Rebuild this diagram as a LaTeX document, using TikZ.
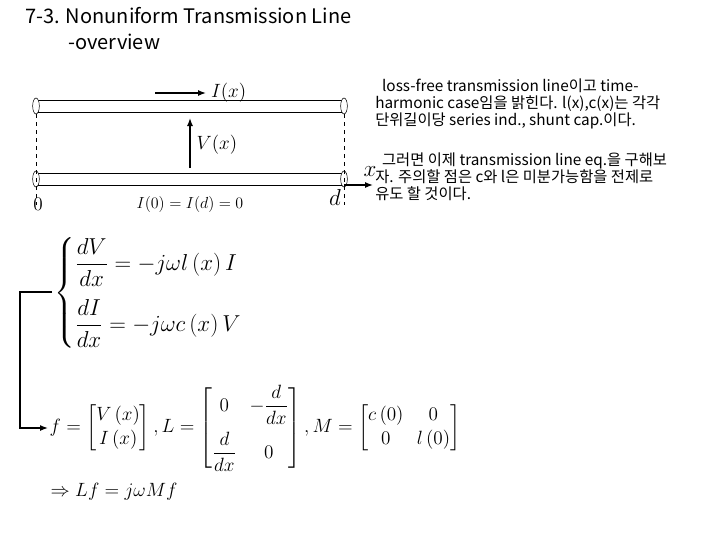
\documentclass[tikz,border=0pt]{standalone}
\usepackage{amsmath}
\usepackage{fontspec}
\setmainfont{Noto Sans CJK KR}
\usetikzlibrary{arrows.meta,positioning,shapes.geometric}
\tikzstyle{conductor} = [draw=black,line width=0.4pt]
\tikzstyle{endcap} = [draw=black,ellipse,minimum width=5pt,minimum height=12pt,inner sep=0pt,fill=white]
\tikzstyle{flow} = [-{Latex[length=6pt]},line width=1.2pt]
\tikzstyle{memo} = [anchor=north west,align=left,font=\fontsize{11.5}{12.6}\selectfont,inner sep=0pt]
\begin{document}
\begin{tikzpicture}[x=0.75pt,y=-0.75pt]
\useasboundingbox (0,0) rectangle (720,540);

%------------------------------------------------------- title
\node[anchor=north west,inner sep=0pt,font=\fontsize{15}{15}\selectfont] (t1) at (25,7) {7-3. Nonuniform Transmission Line};
\node[anchor=north west,inner sep=0pt,font=\fontsize{15}{15}\selectfont] (t2) at (68,34) {-overview};

%------------------------------------------------------- line
\draw[conductor] (36,100) rectangle (344,112);
\draw[conductor] (36,173) rectangle (344,185);
\node[endcap] (c1) at (36,106) {};
\node[endcap] (c2) at (344,106) {};
\node[endcap] (c3) at (36,179) {};
\node[endcap] (c4) at (344,179) {};
\draw[dashed] (c1.south) -- (36,205);
\draw[dashed] (c2.south) -- (344,205);
\coordinate (i0) at (155,93);
\coordinate (i1) at (206,93);
\draw[flow,line width=1pt] (i0) -- (i1) node[right,font=\Large]{$I(x)$};
\coordinate (v0) at (190,168);
\coordinate (v1) at (190,118);
\draw[flow,line width=1pt] (v0) -- (v1);
\node[font=\Large,right] (vx) at (192,145) {$V(x)$};
\coordinate (x0) at (344,185);
\coordinate (x1) at (373,185);
\draw[flow,line width=1pt] (x0) -- (x1);
\node[font=\LARGE] (xl) at (370,172) {$x$};
\node[font=\Large] (o) at (38,204) {$0$};
\node[font=\LARGE] (d) at (335,197) {$d$};
\node[font=\large] (bc) at (190,204) {$I(0)=I(d)=0$};

%------------------------------------------------------- notes
\node[memo] (n1) at (375,79) {\ \ loss-free transmission line이고 time-\\harmonic case임을 밝힌다. l(x),c(x)는 각각\\단위길이당 series ind., shunt cap.이다.};
\node[memo] (n2) at (375,153) {\ \ 그러면 이제 transmission line eq.을 구해보\\자. 주의할 점은 c와 l은 미분가능함을 전제로\\유도 할 것이다.};

%------------------------------------------------------- equations
\node[anchor=west,font=\fontsize{18}{22}\selectfont] (eq1) at (50,293) {$\left\{\begin{aligned}&\dfrac{dV}{dx}=-j\omega l\left(x\right)I\\[6pt]&\dfrac{dI}{dx}=-j\omega c\left(x\right)V\end{aligned}\right.$};
\node[anchor=west,font=\Large,inner sep=1pt] (eq2) at (48,428) {$f=\begin{bmatrix}V\left(x\right)\\ I\left(x\right)\end{bmatrix},L=\begin{bmatrix}0 & -\dfrac{d}{dx}\\[10pt] \dfrac{d}{dx} & 0\end{bmatrix},M=\begin{bmatrix}c\left(0\right) & 0\\ 0 & l\left(0\right)\end{bmatrix}$};
\node[anchor=west,font=\Large] (eq3) at (46,492) {$\Rightarrow Lf=j\omega Mf$};

\coordinate (k0) at (52,292);
\coordinate (k1) at (20,292);
\coordinate (k2) at (20,428);
\draw[flow,line width=1pt] (k0) -- (k1) -- (k2) -- (eq2.west);
\end{tikzpicture}
\end{document}
